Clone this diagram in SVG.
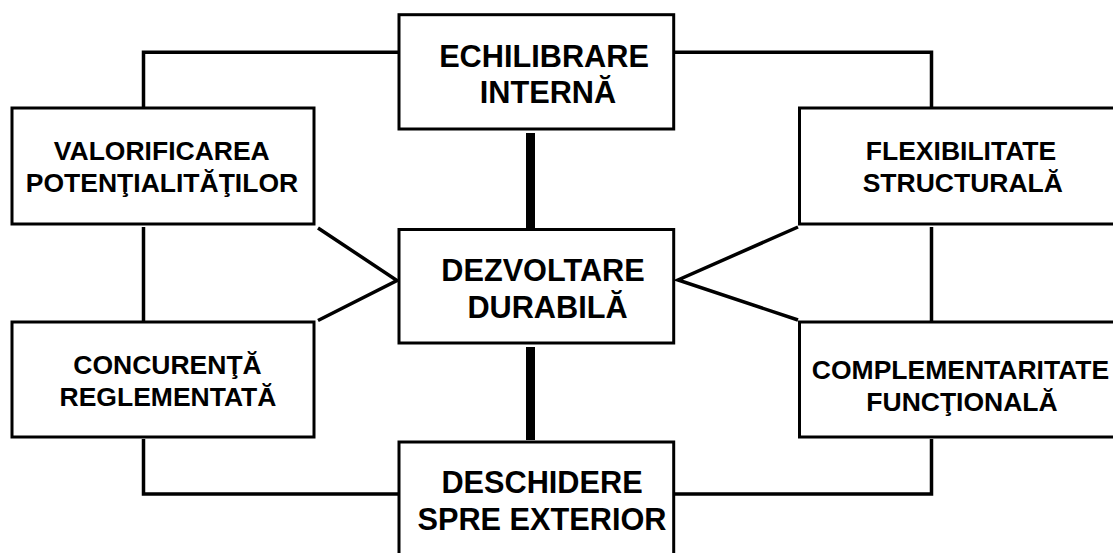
<svg xmlns="http://www.w3.org/2000/svg" width="1113" height="553" viewBox="0 0 1113 553">
<style>
.box{fill:#fff;stroke:#000;stroke-width:3}
.ln{fill:none;stroke:#000;stroke-width:3.5;stroke-linejoin:miter;stroke-linecap:butt}
.thick{fill:none;stroke:#000;stroke-width:9}
text{font-family:"Liberation Sans",Arial,sans-serif;font-weight:bold;fill:#000;text-anchor:middle}
.s{font-size:26.5px}
.b{font-size:30.7px}
</style>
<rect width="1113" height="553" fill="#fff"/>
<g id="connectors">
<path class="ln" d="M399 52.3H143.5V108"/>
<path class="ln" d="M673 52.3H931.5V108"/>
<path class="ln" d="M143.5 227V321"/>
<path class="ln" d="M143.5 439V494H399"/>
<path class="ln" d="M931.5 227V321"/>
<path class="ln" d="M931.5 439V494H673"/>
<path class="ln" d="M318 228L397 280.5L318 320.5"/>
<path class="ln" d="M798 227L678 280L798 320"/>
<path class="thick" d="M530.5 133V228"/>
<path class="thick" d="M530.5 347V440"/>
</g>
<g id="echilibrare">
<rect class="box" x="399" y="14.7" width="274.7" height="114.3"/>
<text class="b" x="544" y="66.7">ECHILIBRARE</text>
<text class="b" x="548" y="103.3">INTERNĂ</text>
</g>
<g id="dezvoltare">
<rect class="box" x="399" y="229.5" width="274.7" height="113.5"/>
<text class="b" x="543" y="281">DEZVOLTARE</text>
<text class="b" x="547.5" y="317.7">DURABILĂ</text>
</g>
<g id="deschidere">
<rect class="box" x="399" y="442" width="274.7" height="120"/>
<text class="b" x="542" y="492.7">DESCHIDERE</text>
<text class="b" x="542" y="530">SPRE EXTERIOR</text>
</g>
<g id="valorificarea">
<rect class="box" x="12" y="108" width="302" height="116"/>
<text class="s" x="161.8" y="160">VALORIFICAREA</text>
<text class="s" x="162" y="192.3">POTENŢIALITĂŢILOR</text>
</g>
<g id="concurenta">
<rect class="box" x="12" y="322" width="302" height="115"/>
<text class="s" x="167.5" y="374">CONCURENŢĂ</text>
<text class="s" x="168" y="405.7">REGLEMENTATĂ</text>
</g>
<g id="flexibilitate">
<rect class="box" x="799.5" y="108" width="340" height="116"/>
<text class="s" x="961" y="160">FLEXIBILITATE</text>
<text class="s" x="962.8" y="192">STRUCTURALĂ</text>
</g>
<g id="complementaritate">
<rect class="box" x="799.5" y="322" width="340" height="115"/>
<text class="s" x="960.5" y="378.5">COMPLEMENTARITATE</text>
<text class="s" x="962" y="410.5">FUNCŢIONALĂ</text>
</g>
</svg>
